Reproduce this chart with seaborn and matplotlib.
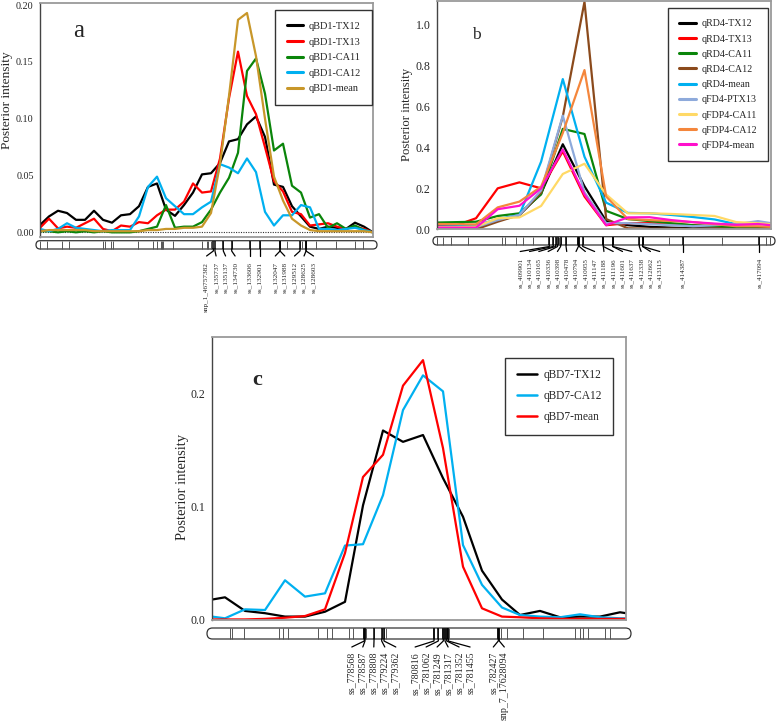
import numpy as np
import pandas as pd
import matplotlib
matplotlib.use("Agg")
import matplotlib.pyplot as plt
import seaborn as sns
from matplotlib.patches import FancyBboxPatch
from matplotlib.lines import Line2D

# ------------------------------------------------------------------
# data - panel a (qBD1)
# ------------------------------------------------------------------
pos_a = [0, 1, 2, 3, 4, 5, 6, 7, 8, 9, 10, 11, 12, 13, 14, 15, 16, 17, 18,
         19, 20, 21, 22, 23, 24, 25, 26, 27, 28, 29, 30, 31, 32, 33, 34, 35, 36, 37]
a_traits = ['qBD1-TX12', 'qBD1-TX13', 'qBD1-CA11', 'qBD1-CA12', 'qBD1-mean']
a_tx12 = [0.0065, 0.014, 0.019, 0.017, 0.011, 0.011, 0.019, 0.011, 0.0085, 0.015,
          0.016, 0.023, 0.040, 0.043, 0.020, 0.0145, 0.024, 0.035, 0.051, 0.052,
          0.061, 0.080, 0.082, 0.095, 0.102, 0.084, 0.042, 0.040, 0.023, 0.014,
          0.005, 0.003, 0.005, 0.004, 0.003, 0.0085, 0.005, 0.0]
a_tx13 = [0.004, 0.012, 0.0035, 0.005, 0.004, 0.008, 0.012, 0.003, 0.001, 0.006,
          0.005, 0.009, 0.008, 0.015, 0.020, 0.020, 0.027, 0.043, 0.035, 0.036,
          0.065, 0.118, 0.159, 0.120, 0.104, 0.075, 0.045, 0.036, 0.018, 0.016,
          0.006, 0.007, 0.008, 0.005, 0.003, 0.005, 0.003, 0.0]
a_ca11 = [0.001, 0.001, 0.0, 0.001, 0.0, 0.001, 0.0, 0.001, 0.0, 0.0,
          0.0, 0.001, 0.003, 0.005, 0.024, 0.004, 0.005, 0.005, 0.009, 0.020,
          0.035, 0.048, 0.070, 0.142, 0.153, 0.122, 0.072, 0.078, 0.041, 0.035,
          0.013, 0.016, 0.004, 0.008, 0.003, 0.006, 0.002, 0.0]
a_ca12 = [0.003, 0.001, 0.003, 0.008, 0.004, 0.003, 0.002, 0.001, 0.002, 0.002,
          0.002, 0.014, 0.040, 0.049, 0.030, 0.023, 0.016, 0.016, 0.022, 0.027,
          0.060, 0.057, 0.052, 0.065, 0.053, 0.018, 0.006, 0.015, 0.015, 0.024,
          0.022, 0.003, 0.003, 0.002, 0.003, 0.004, 0.002, 0.0]
a_mean = [0.001, 0.002, 0.002, 0.002, 0.002, 0.002, 0.001, 0.001, 0.001, 0.001,
          0.001, 0.001, 0.002, 0.002, 0.003, 0.003, 0.004, 0.004, 0.005, 0.017,
          0.060, 0.120, 0.187, 0.193, 0.155, 0.100, 0.049, 0.028, 0.012, 0.006,
          0.002, 0.001, 0.001, 0.001, 0.001, 0.001, 0.001, 0.0]
a_markers = [0, 0.74, 2.41, 3.26, 6.97, 7.22, 7.89, 8.15, 10.92, 12.52, 12.97,
             13.44, 13.59, 13.70, 14.81, 17.97, 18.52, 18.70, 18.97, 20.37,
             21.3, 23.33, 24.44, 26.67, 27.41, 28.89, 29.07, 29.56, 30.67,
             32.89, 35.0, 35.92]
a_snp_names = ['snp_1_46757382', 'ss_135737', 'ss_135137', 'ss_134730', 'ss_133606',
               'ss_132901', 'ss_132047', 'ss_131988', 'ss_129512', 'ss_128625', 'ss_128603']
a_snp_pos = [19.26, 19.44, 20.37, 21.3, 23.33, 24.44, 26.67, 26.67, 28.89, 29.56, 29.56]

# ------------------------------------------------------------------
# data - panel b (qRD4 / qFDP4)
# ------------------------------------------------------------------
pos_b = [0, 9, 18, 28, 38, 48, 58, 68, 78, 88, 98, 108, 118, 128, 138, 148, 154]
b_traits = ['qRD4-TX12', 'qRD4-TX13', 'qRD4-CA11', 'qRD4-CA12', 'qRD4-mean',
            'qFD4-PTX13', 'qFDP4-CA11', 'qFDP4-CA12', 'qFDP4-mean']
b_rd_tx12 = [0.005, 0.005, 0.005, 0.045, 0.07, 0.175, 0.415, 0.21, 0.04, 0.02,
             0.012, 0.008, 0.005, 0.004, 0.003, 0.003, 0.003]
b_rd_tx13 = [0.02, 0.02, 0.054, 0.20, 0.229, 0.20, 0.38, 0.16, 0.02, 0.03,
             0.03, 0.025, 0.02, 0.015, 0.01, 0.01, 0.008]
b_rd_ca11 = [0.033, 0.035, 0.037, 0.065, 0.078, 0.17, 0.49, 0.465, 0.09, 0.05,
             0.04, 0.03, 0.02, 0.015, 0.01, 0.005, 0.005]
b_rd_ca12 = [0.0, 0.0, 0.0, 0.037, 0.07, 0.18, 0.55, 1.11, 0.05, 0.005,
             0.003, 0.003, 0.002, 0.002, 0.002, 0.002, 0.002]
b_rd_mean = [0.013, 0.015, 0.02, 0.05, 0.07, 0.33, 0.733, 0.354, 0.13, 0.08,
             0.078, 0.07, 0.06, 0.048, 0.025, 0.03, 0.02]
b_fd_ptx13 = [0.01, 0.01, 0.01, 0.045, 0.07, 0.19, 0.555, 0.18, 0.03, 0.03,
              0.025, 0.02, 0.015, 0.02, 0.025, 0.04, 0.03]
b_fdp_ca11 = [0.01, 0.01, 0.013, 0.054, 0.058, 0.114, 0.27, 0.32, 0.17, 0.078,
              0.078, 0.075, 0.07, 0.065, 0.035, 0.03, 0.025]
b_fdp_ca12 = [0.026, 0.025, 0.024, 0.107, 0.135, 0.208, 0.47, 0.777, 0.16, 0.05,
              0.045, 0.04, 0.035, 0.025, 0.015, 0.015, 0.012]
b_fdp_mean = [0.008, 0.008, 0.008, 0.098, 0.115, 0.20, 0.39, 0.17, 0.02, 0.058,
              0.059, 0.045, 0.035, 0.028, 0.022, 0.026, 0.02]
b_markers = [-0.2, 2.6, 6.5, 14.1, 29.8, 31.4, 36.4, 39.8, 44.1, 51.8, 53.6, 54.7,
             55.6, 56.4, 57.0, 59.5, 64.7, 65.2, 65.6, 67.2, 76.7, 81.0, 93.3,
             94.8, 107.1, 113.3, 131.3, 148.6, 151.7, 153.5]
b_snp_names = ['ss_409901', 'ss_410134', 'ss_410165', 'ss_410336', 'ss_410398',
               'ss_410478', 'ss_410794', 'ss_410955', 'ss_411147', 'ss_411188',
               'ss_411196', 'ss_411601', 'ss_411637', 'ss_412338', 'ss_412662',
               'ss_413115', 'ss_414387', 'ss_417094']
b_snp_pos = [51.8, 53.6, 54.7, 55.6, 57.0, 59.5, 65.2, 65.6, 67.2, 76.7, 76.7,
             81.0, 81.0, 93.3, 94.8, 94.8, 113.3, 148.6]

# ------------------------------------------------------------------
# data - panel c (qBD7)
# ------------------------------------------------------------------
pos_c = [0, 13, 33, 53, 73, 93, 113, 133, 151, 171, 191, 211, 231, 251, 270,
         290, 308, 328, 348, 368, 388, 408, 414]
c_traits = ['qBD7-TX12', 'qBD7-CA12', 'qBD7-mean']
c_tx12 = [0.018, 0.020, 0.008, 0.006, 0.003, 0.003, 0.0073, 0.016, 0.101, 0.167,
          0.157, 0.163, 0.125, 0.091, 0.0435, 0.018, 0.0044, 0.008, 0.0024, 0.003,
          0.003, 0.0068, 0.006]
c_ca12 = [0.003, 0.0015, 0.0094, 0.0088, 0.035, 0.0206, 0.0235, 0.0656, 0.0668, 0.110,
          0.185, 0.2156, 0.2015, 0.066, 0.031, 0.011, 0.0044, 0.003, 0.0024, 0.005,
          0.0024, 0.0015, 0.0015]
c_mean = [0.0005, 0.0005, 0.0005, 0.001, 0.002, 0.0035, 0.0094, 0.059, 0.126, 0.1456,
          0.2065, 0.229, 0.1515, 0.047, 0.0103, 0.003, 0.0024, 0.0015, 0.001, 0.001,
          0.001, 0.001, 0.001]
c_markers = [18, 19.7, 32.3, 67.3, 71.3, 76.3, 105.7, 114.7, 119.7, 137.3, 141.3,
             151.3, 152.3, 153.3, 154, 162, 169.7, 172, 174, 220.7, 222, 226.3,
             230.3, 231.3, 232.3, 233, 234, 234.7, 235.7, 237, 285.3, 286.3, 287.3,
             288.7, 295.3, 311.3, 330.7, 363, 368, 371.3, 376.3, 393, 398]
c_snp_names = ['ss_778568', 'ss_778587', 'ss_778808', 'ss_779224', 'ss_779362',
               'ss_780816', 'ss_781062', 'ss_781249', 'ss_781317', 'ss_781352',
               'ss_781455', 'ss_782427', 'snp_7_17628094']
c_snp_pos = [152.3, 153, 162, 169.7, 172, 222, 226.3, 231.3, 233, 234.7, 236.3,
             286.3, 287.3]

# colours
pal_a = ['#000000', '#ff0000', '#0a850a', '#00b0f0', '#c8972a']
pal_b = ['#000000', '#ff0000', '#0a850a', '#8b4a1c', '#00b0f0',
         '#8eaadb', '#ffd966', '#f4863c', '#ff10cc']
pal_c = ['#000000', '#00b0f0', '#ff0000']

# ------------------------------------------------------------------
sns.set_style("white")
plt.rcParams['font.family'] = ['Liberation Serif', 'DejaVu Serif']

W, H = 776, 721
fig = plt.figure(figsize=(W / 100, H / 100), dpi=100)


def long_df(pos, traits, series):
    frames = [pd.DataFrame({'pos': pos, 'value': s, 'trait': t}) for t, s in zip(traits, series)]
    return pd.concat(frames, ignore_index=True)


def add_panel(rect, xlim, ylim, df, traits, pal, lw):
    l, t, r, b = rect
    ax = fig.add_axes([l / W, 1 - b / H, (r - l) / W, (b - t) / H])
    sns.lineplot(data=df, x='pos', y='value', hue='trait', hue_order=traits,
                 palette=pal, linewidth=lw, legend=False, sort=False, ax=ax)
    ax.set_xlim(*xlim)
    ax.set_ylim(*ylim)
    ax.axhline(0, color='#333333', lw=0.8, ls=(0, (1, 1.2)), zorder=0.5)
    ax.set_xticks([])
    ax.set_xlabel('')
    for side in ['top', 'right', 'bottom']:
        ax.spines[side].set_color('#9a9a9a')
        ax.spines[side].set_linewidth(1.3)
    ax.spines['left'].set_color('#444444')
    ax.spines['left'].set_linewidth(1.0)
    ax.tick_params(axis='y', direction='out', length=3, width=0.8, color='#444444', pad=1.5)
    return ax


def spread(vals, gap):
    groups = [[v] for v in sorted(vals)]
    merged = True
    while merged:
        merged = False
        out = [groups[0]]
        for g in groups[1:]:
            p = out[-1]
            p_end = np.mean(p) + gap * (len(p) - 1) / 2
            g_start = np.mean(g) - gap * (len(g) - 1) / 2
            if g_start < p_end + gap:
                out[-1] = p + g
                merged = True
            else:
                out.append(g)
        groups = out
    res = []
    for g in groups:
        start = np.mean(g) - gap * (len(g) - 1) / 2
        res += [start + i * gap for i in range(len(g))]
    return res


def chromosome(ax, bar_top, bar_h, markers, names, snp_pos, stub, diag, gap_txt,
               fs, label_gap_px, pad_px):
    x0, x1 = ax.get_xlim()
    bb = ax.get_position()
    ppu = bb.width * W / (x1 - x0)
    depth = 110
    axb = fig.add_axes([bb.x0, 1 - (bar_top + depth) / H, bb.width, depth / H])
    axb.set_xlim(x0, x1)
    axb.set_ylim(depth, 0)
    axb.axis('off')
    bx0, bx1 = x0 - pad_px / ppu, x1 + pad_px / ppu
    r = bar_h / 2
    axb.add_patch(FancyBboxPatch((bx0, 0), bx1 - bx0, bar_h,
                                 boxstyle=f"round,pad=0,rounding_size={r / ppu}",
                                 mutation_aspect=ppu, fc='white', ec='#333333',
                                 lw=0.9, clip_on=False))
    axb.vlines(markers, 0, bar_h, color='#555555', lw=0.7, clip_on=False)
    axb.vlines(snp_pos, 0, bar_h, color='black', lw=1.1, clip_on=False)
    order = np.argsort(snp_pos, kind='stable')
    lab_x = spread([snp_pos[i] for i in order], label_gap_px / ppu)
    for k, i in enumerate(order):
        m = snp_pos[i]
        lx = lab_x[k]
        axb.plot([m, m, lx], [bar_h, bar_h + stub, bar_h + stub + diag],
                 color='black', lw=0.9, clip_on=False)
        axb.text(lx, bar_h + stub + diag + gap_txt, names[i], rotation=90,
                 ha='center', va='top', fontsize=fs, clip_on=False)
    return axb


def legend(ax, traits, pal, anchor, fs, lw, hl, ls, bp):
    handles = [Line2D([], [], color=c, lw=lw) for c in pal]
    leg = ax.legend(handles, traits, loc='upper right', bbox_to_anchor=anchor,
                    fontsize=fs, frameon=True, fancybox=False, framealpha=1,
                    edgecolor='#333333', handlelength=hl, handletextpad=0.5,
                    labelspacing=ls, borderpad=bp, borderaxespad=0)
    leg.get_frame().set_linewidth(1.0)


# ---------------- panel a ----------------
df_a = long_df(pos_a, a_traits, [a_tx12, a_tx13, a_ca11, a_ca12, a_mean])
ax_a = add_panel((40, 3, 373, 237), (0, 37), (-0.0041, 0.2018), df_a, a_traits, pal_a, 1.6)
ax_a.set_yticks([0, 0.05, 0.10, 0.15, 0.20])
ax_a.set_yticklabels(['0.00', '0.05', '0.10', '0.15', '0.20'], fontsize=7.3)
ax_a.set_ylabel('Posterior intensity', fontsize=9.6)
ax_a.yaxis.set_label_coords(-0.081, 0.585)
ax_a.text(0.117, 0.855, 'a', transform=ax_a.transAxes, fontsize=18, ha='center', va='baseline')
legend(ax_a, a_traits, pal_a, (0.998, 0.970), 7.4, 2.2, 1.6, 0.62, 1.15)
chromosome(ax_a, 240.7, 8.3, a_markers, a_snp_names, a_snp_pos, 2, 5, 6, 5.2, 9.5, 4)

# ---------------- panel b ----------------
df_b = long_df(pos_b, b_traits, [b_rd_tx12, b_rd_tx13, b_rd_ca11, b_rd_ca12, b_rd_mean,
                                 b_fd_ptx13, b_fdp_ca11, b_fdp_ca12, b_fdp_mean])
ax_b = add_panel((437, 1, 771, 229.3), (0, 154), (0, 1.114), df_b, b_traits, pal_b, 1.6)
ax_b.set_yticks([0, 0.2, 0.4, 0.6, 0.8, 1.0])
ax_b.set_yticklabels(['0.0', '0.2', '0.4', '0.6', '0.8', '1.0'], fontsize=8.6)
ax_b.set_ylabel('Posterior intensity', fontsize=9.2)
ax_b.yaxis.set_label_coords(-0.072, 0.505)
ax_b.text(0.117, 0.833, 'b', transform=ax_b.transAxes, fontsize=12.5, ha='center', va='baseline')
legend(ax_b, b_traits, pal_b, (0.990, 0.968), 7.2, 2.2, 1.7, 0.62, 1.1)
chromosome(ax_b, 236.7, 8.3, b_markers, b_snp_names, b_snp_pos, 1.5, 5, 6.5, 5.0, 9.3, 4)

# ---------------- panel c ----------------
df_c = long_df(pos_c, c_traits, [c_tx12, c_ca12, c_mean])
ax_c = add_panel((212, 337, 626, 620), (0, 414), (0, 0.2494), df_c, c_traits, pal_c, 1.6)
ax_c.set_yticks([0, 0.1, 0.2])
ax_c.set_yticklabels(['0.0', '0.1', '0.2'], fontsize=8.6)
ax_c.set_ylabel('Posterior intensity', fontsize=10.5)
ax_c.yaxis.set_label_coords(-0.056, 0.47)
ax_c.text(0.109, 0.830, 'c', transform=ax_c.transAxes, fontsize=16, fontweight='bold',
          ha='center', va='baseline')
legend(ax_c, c_traits, pal_c, (0.969, 0.926), 8.3, 1.8, 1.8, 0.76, 1.0)
chromosome(ax_c, 628, 11, c_markers, c_snp_names, c_snp_pos, 2, 6, 5, 7.2, 11, 5)

fig.savefig('out.png', dpi=100)
